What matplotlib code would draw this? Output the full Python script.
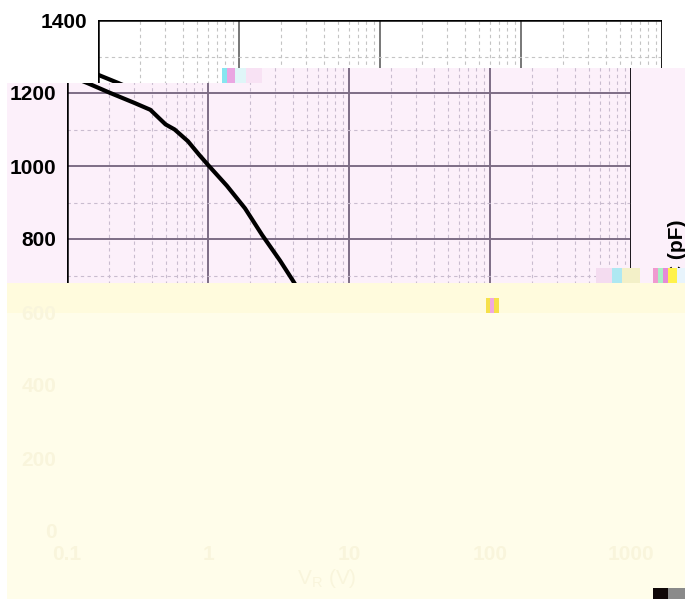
import matplotlib
matplotlib.use('Agg')
import matplotlib.pyplot as plt
from matplotlib.patches import Polygon, Rectangle
from matplotlib.ticker import NullFormatter
from matplotlib.transforms import Bbox, TransformedBbox

W, H = 685, 599

v_r = [0.1, 0.14, 0.2, 0.3, 0.39, 0.5, 0.58, 0.72, 0.86, 1.0, 1.36, 1.83, 2.42, 3.24, 4.0, 4.4]
cap_pf = [1250, 1227, 1201, 1173, 1154, 1114, 1100, 1068, 1032, 1003, 946, 884, 811, 741, 686, 660]

x_ticks = [0.1, 1, 10, 100, 1000]
x_labels = ['0.1', '1', '10', '100', '1000']
x_minor = [m * 10.0 ** e for e in range(-1, 3) for m in range(2, 10)]
y_ticks = [0, 200, 400, 600, 800, 1000, 1200, 1400]
y_minor = [100, 300, 500, 700, 900, 1100, 1300]

plt.rcParams['font.family'] = ['Liberation Sans', 'DejaVu Sans']
plt.rcParams['font.weight'] = 'bold'

fig = plt.figure(figsize=(6.85, 5.99), dpi=100)
fig.patch.set_facecolor('white')


def fp(x, y):
    return (x / W, 1 - y / H)


def region(pts, **kw):
    return Polygon([fp(*p) for p in pts], closed=True, transform=fig.transFigure, **kw)


def rect_box(x0, y0, x1, y1):
    # text can only be clipped by rectangles in Agg
    return TransformedBbox(Bbox([fp(x0, y1), fp(x1, y0)]), fig.transFigure)


top_clip = region([(0, 0), (W, 0), (W, 68), (222, 68), (222, 83), (0, 83)])
mid_pts = [(7, 83), (222, 83), (222, 68), (W, 68), (W, 283), (7, 283)]
mid_clip = region(mid_pts)

# glitch bands behind the axes
fig.add_artist(region(mid_pts, fc='#fcf0fa', ec='none', zorder=-5))
fig.add_artist(region([(7, 283), (W, 283), (W, H), (7, H)], fc='#fffdea', ec='none', zorder=-5))
fig.add_artist(region([(7, 283), (W, 283), (W, 313), (7, 313)], fc='#fffbdd', ec='none', zorder=-4))


def make_axes(left_px, major_col, minor_col, clip, lbox):
    ax = fig.add_axes([left_px / W, 1 - 531 / H, 564 / W, 511 / H])
    ax.set_facecolor('none')
    ax.set_xscale('log')
    ax.set_xlim(0.1, 1000)
    ax.set_ylim(0, 1400)
    ax.set_xticks(x_ticks)
    ax.set_xticklabels(x_labels)
    ax.set_xticks(x_minor, minor=True)
    ax.xaxis.set_minor_formatter(NullFormatter())
    ax.set_yticks(y_ticks)
    ax.set_yticks(y_minor, minor=True)
    ax.yaxis.set_minor_formatter(NullFormatter())
    ax.tick_params(which='both', length=0, labelsize=15)
    ax.tick_params(axis='y', pad=7.5)
    ax.tick_params(axis='x', pad=10)
    ax.grid(which='major', color=major_col, lw=1.4)
    ax.grid(which='minor', color=minor_col, lw=0.8, ls=(0, (3, 3)))
    ax.plot(v_r, cap_pf, color='black', lw=3, solid_capstyle='round')
    for s in ax.spines.values():
        s.set_linewidth(1.8)
        s.set_color('black')
        s.set_clip_path(clip)
    for ln in ax.lines:
        ln.set_clip_path(clip)
    for axis in (ax.xaxis, ax.yaxis):
        for t in axis.get_major_ticks() + axis.get_minor_ticks():
            t.gridline.set_clip_path(clip)
            t.label1.set_clip_on(True)
            t.label1.set_clip_box(lbox)
    return ax


ax_top = make_axes(98, '#777777', '#c4c4c4', top_clip, rect_box(0, 0, W, 80))
ax_mid = make_axes(67, '#7d6d85', '#c9bccf', mid_clip, rect_box(7, 83, W, H))

# the top strip only shows the 1400 label, the shifted strip shows the rest
for val, lbl in zip(y_ticks, ax_top.get_yticklabels()):
    lbl.set_visible(val == 1400)
for lbl in ax_top.get_xticklabels():
    lbl.set_visible(False)

faint = '#f9f5dc'
for val, lbl in zip(y_ticks, ax_mid.get_yticklabels()):
    if val == 1400:
        lbl.set_visible(False)
    elif val < 700:
        lbl.set_color(faint)
for lbl in ax_mid.get_xticklabels():
    lbl.set_color(faint)
ax_mid.set_xlabel('V$_\\mathregular{R}$ (V)', fontsize=15, color=faint)
ax_mid.xaxis.set_label_coords(0.46, -0.07)

side = ax_mid.text(1.083, 770, 'C (pF)', transform=ax_mid.get_yaxis_transform(),
                   rotation=90, ha='center', va='center', fontsize=15)
side.set_clip_on(True)
side.set_clip_box(rect_box(0, 68, W, 268))

# corrupted blocks
noise = [
    (222, 68, 227, 83, '#86e6f0'), (227, 68, 235, 83, '#eaa6e2'), (235, 68, 246, 83, '#dff6f8'),
    (246, 68, 262, 83, '#f8e2f4'),
    (596, 268, 612, 283, '#f4dcf0'), (612, 268, 622, 283, '#aee8f2'), (622, 268, 640, 283, '#f3f0c8'),
    (653, 268, 658, 283, '#f09ad0'), (658, 268, 663, 283, '#a8f0c4'), (663, 268, 668, 283, '#e58ad8'),
    (668, 268, 677, 283, '#fff24a'), (677, 268, 685, 283, '#e8f4fc'),
    (486, 298, 490, 313, '#f6e04a'), (490, 298, 494, 313, '#f0a8e0'), (494, 298, 499, 313, '#f6e04a'),
    (653, 588, 668, 599, '#100808'), (668, 588, 685, 599, '#8a8a8a'),
]
for x0, y0, x1, y1, c in noise:
    fig.add_artist(Rectangle(fp(x0, y1), (x1 - x0) / W, (y1 - y0) / H,
                             transform=fig.transFigure, fc=c, ec='none', zorder=5))

fig.savefig('out.png', dpi=100)
